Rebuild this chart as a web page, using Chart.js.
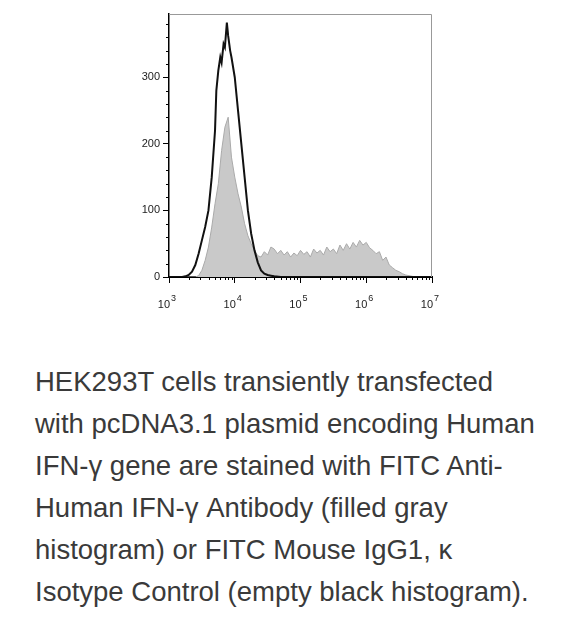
<!DOCTYPE html>
<html><head><meta charset="utf-8">
<script src="https://cdn.jsdelivr.net/npm/chart.js@4"></script>
<style>
body{margin:0;background:#fff;width:587px;height:623px;overflow:hidden;position:relative}
#wrap{position:absolute;left:0;top:0;width:587px;height:330px}
#cap{position:absolute;left:35px;top:361px;width:560px;font-family:"Liberation Sans",Arial,sans-serif;font-size:27.5px;line-height:42px;color:#3a3a3a;white-space:nowrap}
</style></head><body>
<div id="wrap"><canvas id="c" width="587" height="330"></canvas></div>
<div id="cap">HEK293T cells transiently transfected<br>with pcDNA3.1 plasmid encoding Human<br>IFN-γ gene are stained with FITC Anti-<br>Human IFN-γ Antibody (filled gray<br>histogram) or FITC Mouse IgG1, κ<br>Isotype Control (empty black histogram).</div>
<script>
const isoX=[3.0,3.1,3.2,3.25,3.3,3.35,3.4,3.45,3.5,3.55,3.6,3.65,3.7,3.72,3.75,3.78,3.8,3.83,3.85,3.88,3.9,3.93,3.95,4.0,4.05,4.1,4.15,4.2,4.25,4.3,4.35,4.4,4.45,4.5,4.55,4.6,4.7,5.0,6.0,7.0];
const isoY=[0,0,0,1,3,8,18,35,55,75,100,150,220,280,310,330,322,350,345,382,362,340,330,300,250,200,150,100,65,40,22,10,5,3,2,1,0,0,0,0];
const abX=[3.0,3.4,3.45,3.5,3.55,3.6,3.65,3.7,3.75,3.8,3.85,3.9,3.95,4.0,4.05,4.1,4.15,4.2,4.25,4.3,4.35,4.4,4.45,4.5,4.55,4.6,4.65,4.7,4.75,4.8,4.85,4.9,4.95,5.0,5.05,5.1,5.15,5.2,5.25,5.3,5.35,5.4,5.45,5.5,5.55,5.6,5.65,5.7,5.75,5.8,5.85,5.9,5.95,6.0,6.05,6.1,6.15,6.2,6.25,6.3,6.35,6.4,6.45,6.5,6.55,6.6,6.65,6.7,6.75,7.0];
const abY=[0,0,2,10,25,45,75,110,140,190,225,240,180,150,125,105,80,62,50,40,32,30,38,33,45,42,35,40,33,38,30,36,32,40,34,38,30,42,36,40,33,45,38,42,35,48,40,50,42,52,45,55,48,52,44,40,35,38,25,30,18,14,10,8,5,3,2,1,0,0];
const xTicks=[3,4,5,6,7];
const xTickExp=["3","4","5","6","7"];
const yTicks=[0,100,200,300];
const pts=(xs,ys)=>xs.map((x,i)=>({x,y:ys[i]}));
const minor={id:'minor',afterDraw(ch){
 const c=ch.ctx,a=ch.chartArea,x=ch.scales.x,y=ch.scales.y;
 c.save();c.strokeStyle='#999';c.lineWidth=1;
 c.beginPath();c.moveTo(a.left,a.top+0.5);c.lineTo(a.right-0.5,a.top+0.5);c.lineTo(a.right-0.5,a.bottom);c.stroke();
 c.strokeStyle='#000';c.beginPath();
 for(let d=3;d<7;d++)for(let k=2;k<10;k++){const px=Math.round(x.getPixelForValue(d+Math.log10(k)))+0.5;c.moveTo(px,a.bottom);c.lineTo(px,a.bottom+3);}
 for(let v=20;v<=380;v+=20){if(v%100===0)continue;const py=Math.round(y.getPixelForValue(v))+0.5;c.moveTo(a.left,py);c.lineTo(a.left-3,py);}
 c.stroke();
 c.fillStyle='#222';c.textBaseline='alphabetic';
 xTicks.forEach((v,i)=>{const px=x.getPixelForValue(v);
  c.font='11px "Liberation Sans"';c.textAlign='right';c.fillText('10',px+1,a.bottom+31);
  c.font='9px "Liberation Sans"';c.textAlign='left';c.fillText(xTickExp[i],px+2,a.bottom+24);});
 c.restore();}};
new Chart(document.getElementById('c'),{type:'line',
data:{datasets:[
 {data:pts(isoX,isoY),borderColor:'#111',borderWidth:2,fill:false,pointRadius:0,order:0},
 {data:pts(abX,abY),borderColor:'#aaa',borderWidth:1,backgroundColor:'#c9c9c9',fill:'origin',pointRadius:0,order:1}]},
options:{responsive:false,animation:false,events:[],
 layout:{padding:{left:0,right:155,top:14,bottom:0}},
 plugins:{legend:{display:false},tooltip:{enabled:false}},
 scales:{
  x:{type:'linear',min:3,max:7,afterFit:s=>{s.height=53},
   afterBuildTicks:s=>{s.ticks=xTicks.map(v=>({value:v}))},
   ticks:{display:false},
   grid:{drawOnChartArea:false,tickLength:6,color:'#000'},border:{color:'#000',width:2}},
  y:{min:0,max:395,afterFit:s=>{s.width=169},
   afterBuildTicks:s=>{s.ticks=yTicks.map(v=>({value:v}))},
   ticks:{color:'#222',font:{family:'Liberation Sans',size:11},padding:3},
   grid:{drawOnChartArea:false,tickLength:6,color:'#000'},border:{color:'#000',width:1.5}}}},
plugins:[minor]});
</script></body></html>
